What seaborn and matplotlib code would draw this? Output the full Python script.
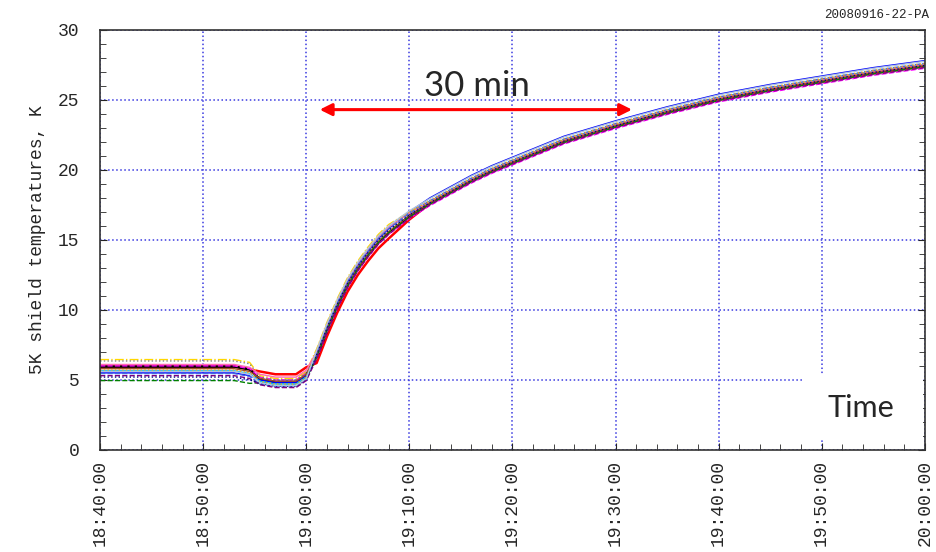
import matplotlib
matplotlib.use("Agg")
import matplotlib.pyplot as plt
import matplotlib.dates as mdates
from matplotlib.patches import Rectangle
import pandas as pd
import seaborn as sns

# minutes after 18:40 and the common profile of the shield temperatures (K)
minutes = [0, 13, 14.5, 15.5, 17, 19, 20, 21, 22, 23, 24, 25, 26, 27, 28, 30,
           32, 34, 36, 38, 40, 45, 50, 55, 60, 65, 70, 75, 80]
base_temp = [6.0, 6.0, 5.8, 5.0, 4.8, 4.8, 5.3, 6.8, 8.7, 10.4, 11.9, 13.1, 14.1,
             15.0, 15.7, 16.8, 17.7, 18.5, 19.3, 20.0, 20.6, 22.1, 23.2, 24.2,
             25.1, 25.8, 26.4, 27.0, 27.5]

# each sensor: level before the dip, level in the dip, offset on the ramp, offset late
pre_level = [5.95, 5.95, 5.5, 5.65, 6.0, 6.45, 6.35, 6.1, 5.8, 4.95, 5.45, 5.3, 5.7, 5.2, 5.6]
dip_level = [5.4, 4.85, 4.8, 4.7, 5.0, 5.1, 5.0, 5.2, 4.9, 4.6, 4.5, 4.45, 4.7, 4.55, 4.6]
ramp_offset = [-0.6, -0.2, 0.1, 0.2, -0.3, 0.4, 0.0, 0.2, -0.1, -0.2, 0.1, -0.3, 0.3, 0.0, 0.3]
late_offset = [-0.1, 0.0, 0.3, 0.05, -0.25, 0.0, -0.1, 0.0, -0.05, -0.15, 0.1, -0.2, 0.1, -0.05, 0.25]
colors = ['red', 'black', 'blue', 'deepskyblue', 'magenta', 'gold', 'gray', 'hotpink',
          'sienna', 'green', 'royalblue', 'purple', 'orange', 'navy', 'lightsteelblue']
styles = ['-', '-', '-', '-', '--', '-.', ':', '-', '-', '--', '--', '--', ':', ':', '-']

arrow_from, arrow_to, arrow_temp = 21.3, 51.6, 24.3

sns.set_style('white')
plt.rcParams['font.family'] = ['Liberation Mono', 'DejaVu Sans Mono']

t0 = pd.Timestamp('2008-09-16 18:40:00')
times = [t0 + pd.Timedelta(minutes=m) for m in minutes]

fig = plt.figure(figsize=(9.36, 5.52), dpi=100)
ax = fig.add_axes([0.107, 0.185, 0.881, 0.761])

for i in range(len(colors)):
    vals = []
    for m, b in zip(minutes, base_temp):
        if m <= 13:
            vals.append(pre_level[i])
        elif m <= 14.5:
            vals.append(pre_level[i] - 0.2)
        elif m <= 19:
            vals.append(dip_level[i] + (0.2 if m == 15.5 else 0))
        elif m <= 20:
            vals.append(dip_level[i] + 0.5)
        elif m <= 28:
            vals.append(b + ramp_offset[i])
        elif m <= 30:
            vals.append(b + (ramp_offset[i] + late_offset[i]) / 2)
        else:
            vals.append(b + late_offset[i])
    lw = 1.8 if colors[i] in ('red', 'black') else 1.0
    sns.lineplot(x=times, y=vals, ax=ax, color=colors[i], linestyle=styles[i],
                 lw=lw, zorder=2)

ax.set_xlim(t0, t0 + pd.Timedelta(minutes=80))
ax.set_ylim(0, 30)
ax.set_yticks(range(0, 31, 5))
ax.yaxis.set_minor_locator(matplotlib.ticker.MultipleLocator(1))
ax.xaxis.set_major_locator(mdates.MinuteLocator(byminute=[0, 10, 20, 30, 40, 50]))
ax.xaxis.set_minor_locator(mdates.MinuteLocator(interval=2))
ax.xaxis.set_major_formatter(mdates.DateFormatter('%H:%M:%S'))
ax.grid(True, which='major', color='#3a3ae0', linestyle=':', lw=1.1)
ax.set_axisbelow(True)
for s in ax.spines.values():
    s.set_color('#333333')
    s.set_linewidth(1.2)
ax.tick_params(axis='both', which='both', direction='in', labelsize=13)
ax.tick_params(axis='y', which='both', right=True, left=True, pad=15)
ax.tick_params(axis='x', which='both', bottom=True, pad=7)
ax.tick_params(which='major', length=5)
ax.tick_params(which='minor', length=4)
plt.setp(ax.get_xticklabels(), rotation=90, va='top', ha='center')
ax.set_xlabel('')
ax.set_ylabel('5K shield temperatures, K', fontsize=13)
ax.yaxis.set_label_coords(-0.066, 0.5)

ax.annotate('', xy=(t0 + pd.Timedelta(minutes=arrow_to), arrow_temp),
            xytext=(t0 + pd.Timedelta(minutes=arrow_from), arrow_temp),
            arrowprops=dict(arrowstyle='<|-|>', color='red', lw=2.2, mutation_scale=18,
                            shrinkA=0, shrinkB=0))
ax.text(t0 + pd.Timedelta(minutes=36.6), 26.0, '30 min', fontsize=25,
        family=['Lato', 'DejaVu Sans'], ha='center', va='center')
# white box pasted over the grid behind the "Time" label
ax.add_patch(Rectangle((0.852, 0.024), 0.146, 0.155, transform=ax.transAxes,
                       facecolor='white', edgecolor='none', zorder=2.2))
ax.text(t0 + pd.Timedelta(minutes=73.8), 3.0, 'Time', fontsize=22,
        family=['Lato', 'DejaVu Sans'], ha='center', va='center', zorder=2.3)
fig.text(0.993, 0.972, '20080916-22-PA', fontsize=9, ha='right', va='center')

fig.savefig('out.png', dpi=100)
